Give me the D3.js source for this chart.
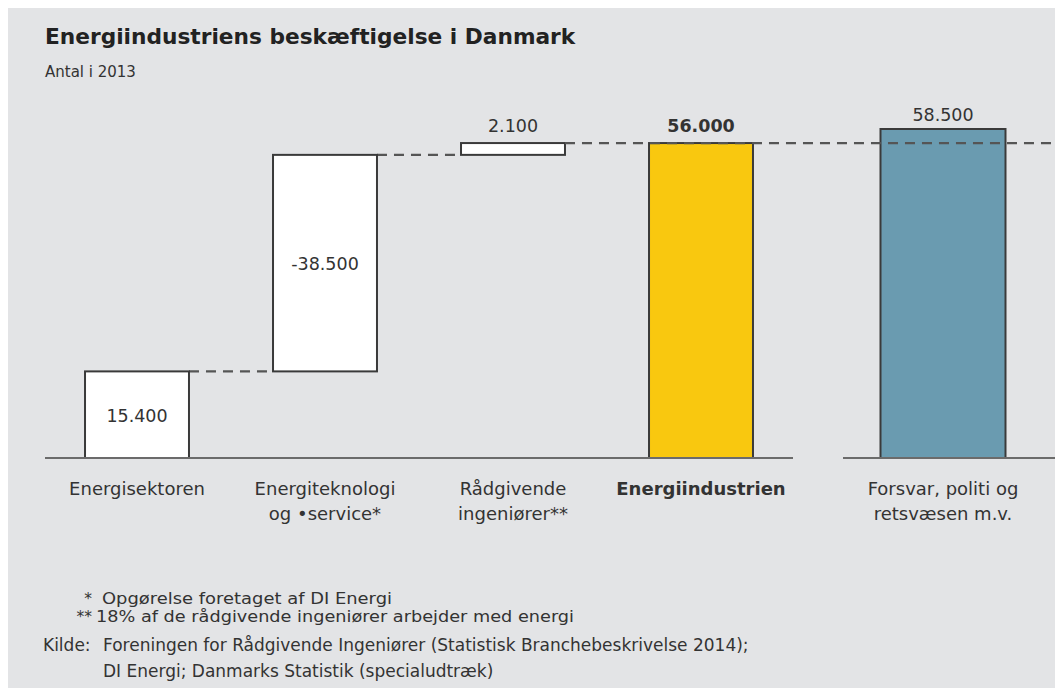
<!DOCTYPE html>
<html>
<head>
<meta charset="utf-8">
<script src="https://cdn.jsdelivr.net/npm/d3@7"></script>
<style>
  body { margin: 0; background: #fff; }
  svg text { fill: #333; font-family: "DejaVu Sans", sans-serif; }
  .cat { font-size: 18px; }
  .val { font-size: 17.5px; }
  .note { font-size: 15.5px; }
  .src { font-size: 17px; }
</style>
</head>
<body>
<div id="chart"></div>
<script>
// 1: DATA
const categories = ["Energisektoren", "Energiteknologi og •service*", "Rådgivende ingeniører**", "Energiindustrien"];
const categoryLines = [["Energisektoren"], ["Energiteknologi", "og •service*"], ["Rådgivende", "ingeniører**"], ["Energiindustrien"]];
const values = [15400, 38500, 2100, 56000];
const isTotal = [false, false, false, true];
const valueLabels = ["15.400", "-38.500", "2.100", "56.000"];

const compareCategory = "Forsvar, politi og retsvæsen m.v.";
const compareLines = ["Forsvar, politi og", "retsvæsen m.v."];
const compareValue = 58500;
const compareLabel = "58.500";

const footnotes = [
    ["*", "Opgørelse foretaget af DI Energi"],
    ["**", "18% af de rådgivende ingeniører arbejder med energi"]
];
const sourceLines = [
    "Foreningen for Rådgivende Ingeniører (Statistisk Branchebeskrivelse 2014);",
    "DI Energi; Danmarks Statistik (specialudtræk)"
];

// 2: SVG
const W = 1055, H = 688;
const svg = d3.select("#chart").append("svg")
    .attr("width", W)
    .attr("height", H);

svg.append("rect")
    .attr("x", 8).attr("y", 8)
    .attr("width", W - 8).attr("height", H - 8)
    .attr("fill", "#e3e4e6");

// 3: WATERFALL STEPS
let running = 0;
const steps = categories.map((c, i) => {
    let start, end;
    if (isTotal[i]) { start = 0; end = values[i]; }
    else { start = running; end = running + values[i]; running = end; }
    return { cat: c, start, end, total: isTotal[i], label: valueLabels[i], lines: categoryLines[i] };
});

// 4: SCALES
const yScale = d3.scaleLinear()
    .domain([0, compareValue])
    .range([458, 129]);

const xScale = d3.scaleBand()
    .domain(categories)
    .range([43, 795])
    .paddingInner(0.447)
    .paddingOuter(0.2235);

const xScale2 = d3.scaleBand()
    .domain([compareCategory])
    .range([843, 1043])
    .paddingInner(0)
    .paddingOuter(0.3);

// 5: CONNECTOR DASHES
const dashY = yScale(steps[3].end);
for (let i = 0; i < 2; i++) {
    svg.append("line")
        .attr("x1", xScale(steps[i].cat) + xScale.bandwidth())
        .attr("x2", xScale(steps[i + 1].cat))
        .attr("y1", yScale(steps[i].end))
        .attr("y2", yScale(steps[i].end))
        .attr("stroke", "#555").attr("stroke-width", 2.2)
        .attr("stroke-dasharray", "10,7");
}

// 6: BARS
svg.selectAll(".bar")
    .data(steps)
    .enter()
    .append("rect")
    .attr("class", "bar")
    .attr("x", d => xScale(d.cat))
    .attr("width", xScale.bandwidth())
    .attr("y", d => yScale(d.end))
    .attr("height", d => yScale(d.start) - yScale(d.end))
    .attr("fill", d => d.total ? "#f9c80f" : "#ffffff")
    .attr("stroke", "#3a3a3a")
    .attr("stroke-width", 2);

svg.append("rect")
    .attr("x", xScale2(compareCategory))
    .attr("width", xScale2.bandwidth())
    .attr("y", yScale(compareValue))
    .attr("height", yScale(0) - yScale(compareValue))
    .attr("fill", "#6a9bb0")
    .attr("stroke", "#3a3a3a")
    .attr("stroke-width", 2);

// long dashed line at total level, also across the compare bar
svg.append("line")
    .attr("x1", xScale(steps[2].cat) + xScale.bandwidth())
    .attr("x2", W)
    .attr("y1", dashY).attr("y2", dashY)
    .attr("stroke", "#555").attr("stroke-width", 2.2)
    .attr("stroke-dasharray", "10,7");

// 7: BASELINES
svg.append("line")
    .attr("x1", 45).attr("x2", 793)
    .attr("y1", yScale(0)).attr("y2", yScale(0))
    .attr("stroke", "#6b6b6b").attr("stroke-width", 2);
svg.append("line")
    .attr("x1", 843).attr("x2", W)
    .attr("y1", yScale(0)).attr("y2", yScale(0))
    .attr("stroke", "#6b6b6b").attr("stroke-width", 2);

// 8: VALUE LABELS
steps.forEach(d => {
    const cx = xScale(d.cat) + xScale.bandwidth() / 2;
    const h = yScale(d.start) - yScale(d.end);
    const inside = h > 40 && !d.total;
    svg.append("text")
        .attr("class", "val")
        .attr("x", cx)
        .attr("y", inside ? (yScale(d.start) + yScale(d.end)) / 2 + 7 : yScale(d.end) - 11)
        .attr("text-anchor", "middle")
        .style("font-weight", d.total ? 700 : 400)
        .text(d.label);
});
svg.append("text")
    .attr("class", "val")
    .attr("x", xScale2(compareCategory) + xScale2.bandwidth() / 2)
    .attr("y", yScale(compareValue) - 8)
    .attr("text-anchor", "middle")
    .text(compareLabel);

// 9: CATEGORY LABELS
function catLabel(x, lines, bold) {
    const t = svg.append("text")
        .attr("class", "cat")
        .attr("x", x)
        .attr("y", 495)
        .attr("text-anchor", "middle")
        .style("font-weight", bold ? 700 : 400);
    lines.forEach((l, j) => t.append("tspan")
        .attr("x", x)
        .attr("dy", j ? 25 : 0)
        .text(l));
}
steps.forEach(d => catLabel(xScale(d.cat) + xScale.bandwidth() / 2, d.lines, d.total));
catLabel(xScale2(compareCategory) + xScale2.bandwidth() / 2, compareLines, false);

// 10: TITLE
svg.append("text")
    .attr("x", 45).attr("y", 44)
    .style("font-weight", 700)
    .style("font-size", "21.7px")
    .style("fill", "#222")
    .text("Energiindustriens beskæftigelse i Danmark");
svg.append("text")
    .attr("x", 45).attr("y", 77)
    .style("font-size", "15px")
    .text("Antal i 2013");

// 11: NOTES
const noteWidths = [290, 478];
footnotes.forEach((f, i) => {
    svg.append("text").attr("class", "note")
        .attr("x", 92).attr("y", 604 + i * 18).attr("text-anchor", "end").text(f[0]);
    svg.append("text").attr("class", "note")
        .attr("x", i ? 96 : 102).attr("y", 604 + i * 18)
        .attr("textLength", noteWidths[i])
        .attr("lengthAdjust", "spacingAndGlyphs")
        .text(f[1]);
});
svg.append("text").attr("class", "src")
    .attr("x", 43).attr("y", 651).text("Kilde:");
sourceLines.forEach((s, i) => {
    svg.append("text").attr("class", "src")
        .attr("x", 103).attr("y", 651 + i * 26).text(s);
});
</script>
</body>
</html>
